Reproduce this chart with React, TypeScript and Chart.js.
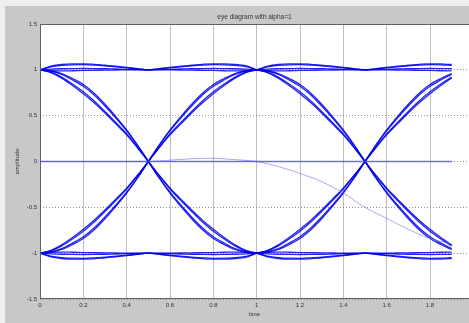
import React, { useEffect, useRef } from "react";
import { Chart, registerables } from "chart.js";

Chart.register(...registerables);

// ---- data ----
const segmentTimes = [0, 0.05, 0.1, 0.15, 0.2, 0.25, 0.3, 0.35, 0.4, 0.45, 0.5, 0.55, 0.6, 0.65, 0.7, 0.75, 0.8, 0.85, 0.9, 0.95, 1.0];
const periodStarts = [0, 1];
const lastTime = 1.9;

// high level (stay at +1) traces
const highA = [1.0, 1.04, 1.058, 1.065, 1.066, 1.06, 1.05, 1.04, 1.027, 1.013, 1.0, 1.013, 1.027, 1.04, 1.05, 1.06, 1.066, 1.065, 1.058, 1.045, 1.0];
const highB = [1.0, 1.032, 1.048, 1.055, 1.056, 1.051, 1.043, 1.033, 1.022, 1.01, 1.0, 1.01, 1.022, 1.033, 1.043, 1.051, 1.056, 1.055, 1.048, 1.036, 1.0];
const highC = [1.0, 1.008, 1.012, 1.014, 1.015, 1.014, 1.012, 1.009, 1.006, 1.003, 1.0, 1.003, 1.006, 1.009, 1.012, 1.014, 1.015, 1.014, 1.012, 1.008, 1.0];
const highD = [1.0, 0.99, 0.988, 0.99, 0.993, 0.995, 0.997, 0.998, 0.999, 1.0, 1.0, 1.0, 0.999, 0.998, 0.997, 0.995, 0.993, 0.99, 0.988, 0.99, 1.0];

// low level (stay at -1) traces
const lowA = [-1.0, -1.04, -1.058, -1.065, -1.066, -1.06, -1.05, -1.04, -1.027, -1.013, -1.0, -1.013, -1.027, -1.04, -1.05, -1.06, -1.066, -1.065, -1.058, -1.045, -1.0];
const lowB = [-1.0, -1.032, -1.048, -1.055, -1.056, -1.051, -1.043, -1.033, -1.022, -1.01, -1.0, -1.01, -1.022, -1.033, -1.043, -1.051, -1.056, -1.055, -1.048, -1.036, -1.0];
const lowC = [-1.0, -1.008, -1.012, -1.014, -1.015, -1.014, -1.012, -1.009, -1.006, -1.003, -1.0, -1.003, -1.006, -1.009, -1.012, -1.014, -1.015, -1.014, -1.012, -1.008, -1.0];
const lowD = [-1.0, -0.99, -0.988, -0.99, -0.993, -0.995, -0.997, -0.998, -0.999, -1.0, -1.0, -1.0, -0.999, -0.998, -0.997, -0.995, -0.993, -0.99, -0.988, -0.99, -1.0];

// falling (+1 -> -1) traces
const fallA = [1.0, 0.99, 0.96, 0.905, 0.84, 0.745, 0.625, 0.49, 0.345, 0.18, 0.0, -0.18, -0.345, -0.49, -0.625, -0.745, -0.84, -0.905, -0.96, -0.99, -1.0];
const fallB = [1.0, 0.985, 0.95, 0.89, 0.82, 0.725, 0.605, 0.475, 0.335, 0.175, 0.0, -0.175, -0.335, -0.475, -0.605, -0.725, -0.82, -0.89, -0.95, -0.985, -1.0];
const fallC = [1.0, 0.975, 0.92, 0.845, 0.76, 0.66, 0.545, 0.425, 0.3, 0.155, 0.0, -0.155, -0.3, -0.425, -0.545, -0.66, -0.76, -0.845, -0.92, -0.975, -1.0];
const fallD = [1.0, 0.97, 0.91, 0.83, 0.74, 0.64, 0.53, 0.41, 0.29, 0.15, 0.0, -0.15, -0.29, -0.41, -0.53, -0.64, -0.74, -0.83, -0.91, -0.97, -1.0];

// rising (-1 -> +1) traces
const riseA = [-1.0, -0.99, -0.96, -0.905, -0.84, -0.745, -0.625, -0.49, -0.345, -0.18, 0.0, 0.18, 0.345, 0.49, 0.625, 0.745, 0.84, 0.905, 0.96, 0.99, 1.0];
const riseB = [-1.0, -0.985, -0.95, -0.89, -0.82, -0.725, -0.605, -0.475, -0.335, -0.175, 0.0, 0.175, 0.335, 0.475, 0.605, 0.725, 0.82, 0.89, 0.95, 0.985, 1.0];
const riseC = [-1.0, -0.975, -0.92, -0.845, -0.76, -0.66, -0.545, -0.425, -0.3, -0.155, 0.0, 0.155, 0.3, 0.425, 0.545, 0.66, 0.76, 0.845, 0.92, 0.975, 1.0];
const riseD = [-1.0, -0.97, -0.91, -0.83, -0.74, -0.64, -0.53, -0.41, -0.29, -0.15, 0.0, 0.15, 0.29, 0.41, 0.53, 0.64, 0.74, 0.83, 0.91, 0.97, 1.0];

// long single traces
const traceTimes = [0, 0.1, 0.2, 0.3, 0.4, 0.5, 0.6, 0.7, 0.8, 0.9, 1.0, 1.1, 1.2, 1.3, 1.4, 1.5, 1.6, 1.7, 1.8, 1.9];
const zeroTrace = [0, 0, 0, 0, 0, 0, 0, 0, 0, 0, 0, 0, 0, 0, 0, 0, 0, 0, 0, 0];
const transientTrace = [0, 0, 0, 0, 0, 0, 0.015, 0.03, 0.035, 0.02, 0, -0.055, -0.13, -0.22, -0.345, -0.5, -0.62, -0.74, -0.84, -0.9];

const timeTicks = [0, 0.2, 0.4, 0.6, 0.8, 1, 1.2, 1.4, 1.6, 1.8];
const amplitudeTicks = [-1.5, -1, -0.5, 0, 0.5, 1, 1.5];

const segments = [
  highA, highB, highC, highD,
  lowA, lowB, lowC, lowD,
  fallA, fallB, fallC, fallD,
  riseA, riseB, riseC, riseD,
];

const FONT = "'Liberation Sans', Arial, sans-serif";
const TEXT = "#333333";

function buildDatasets() {
  const sets: any[] = [];
  sets.push({
    data: traceTimes.map((t, i) => ({ x: t, y: zeroTrace[i] })),
    borderColor: "rgba(70,70,255,0.75)",
    borderWidth: 1.6,
    pointRadius: 0,
    showLine: true,
  });
  sets.push({
    data: traceTimes.map((t, i) => ({ x: t, y: transientTrace[i] })),
    borderColor: "rgba(110,110,255,0.6)",
    borderWidth: 1,
    pointRadius: 0,
    showLine: true,
    cubicInterpolationMode: "monotone",
  });
  for (const start of periodStarts) {
    for (const seg of segments) {
      const pts = segmentTimes
        .map((t, i) => ({ x: start + t, y: seg[i] }))
        .filter((p) => p.x <= lastTime + 1e-9);
      sets.push({
        data: pts,
        borderColor: "rgba(0,0,235,0.85)",
        borderWidth: 1.3,
        pointRadius: 0,
        showLine: true,
        cubicInterpolationMode: "monotone",
      });
    }
  }
  return sets;
}

const framePlugin = {
  id: "frame",
  beforeDraw(chart: any) {
    const { ctx, width, height, chartArea: a } = chart;
    ctx.save();
    ctx.fillStyle = "#c8c8c8";
    ctx.fillRect(0, 0, width, height);
    ctx.fillStyle = "#eeeeee";
    ctx.fillRect(0, 0, width, 6);
    ctx.fillRect(0, 0, 5, height);
    ctx.fillStyle = "#ffffff";
    ctx.fillRect(a.left, a.top, a.right - a.left, a.bottom - a.top);
    ctx.restore();
  },
  afterDraw(chart: any) {
    const { ctx, chartArea: a } = chart;
    ctx.save();
    ctx.strokeStyle = "#606060";
    ctx.lineWidth = 1;
    ctx.strokeRect(a.left + 0.5, a.top + 0.5, a.right - a.left, a.bottom - a.top - 1);
    ctx.restore();
  },
};

export default function App() {
  const ref = useRef<HTMLCanvasElement | null>(null);
  useEffect(() => {
    if (!ref.current) return;
    const chart = new Chart(ref.current, {
      type: "scatter",
      data: { datasets: buildDatasets() },
      options: {
        animation: false,
        responsive: false,
        devicePixelRatio: 1,
        layout: { padding: 0 },
        plugins: {
          legend: { display: false },
          tooltip: { enabled: false },
          title: {
            display: true,
            text: "eye diagram with alpha=1",
            fullSize: false,
            color: TEXT,
            font: { family: FONT, size: 6.5, weight: "normal" },
            padding: { top: 13.5, bottom: 2.7 },
          },
        },
        scales: {
          x: {
            type: "linear",
            min: 0,
            max: 1.98,
            afterBuildTicks: (scale: any) => {
              scale.ticks = timeTicks.map((value) => ({ value }));
            },
            afterFit: (scale: any) => {
              scale.height = 24;
            },
            ticks: {
              color: TEXT,
              font: { family: FONT, size: 6 },
              padding: 3,
              maxRotation: 0,
              autoSkip: false,
              callback: (v: any) => String(v),
            },
            grid: { color: "#bebebe", lineWidth: 1, drawTicks: false },
            border: { display: false },
            title: {
              display: true,
              text: "time",
              color: TEXT,
              font: { family: FONT, size: 6 },
              padding: { top: 0, bottom: 5.5 },
            },
          },
          y: {
            type: "linear",
            min: -1.5,
            max: 1.5,
            afterBuildTicks: (scale: any) => {
              scale.ticks = amplitudeTicks.map((value) => ({ value }));
            },
            afterFit: (scale: any) => {
              scale.width = 40;
            },
            ticks: {
              color: TEXT,
              font: { family: FONT, size: 6 },
              padding: 3,
              autoSkip: false,
              callback: (v: any) => String(v),
            },
            grid: { color: "#909090", lineWidth: 1, drawTicks: false },
            border: { display: false, dash: [1, 2] },
            title: {
              display: true,
              text: "amplitude",
              color: TEXT,
              font: { family: FONT, size: 6 },
              padding: { top: 13.4, bottom: 0 },
            },
          },
        },
      },
      plugins: [framePlugin],
    } as any);
    return () => chart.destroy();
  }, []);
  return (
    <div style={{ position: "fixed", left: 0, top: 0, width: 469, height: 323, overflow: "hidden" }}>
      <canvas ref={ref} width={469} height={323} style={{ display: "block" }} />
    </div>
  );
}
